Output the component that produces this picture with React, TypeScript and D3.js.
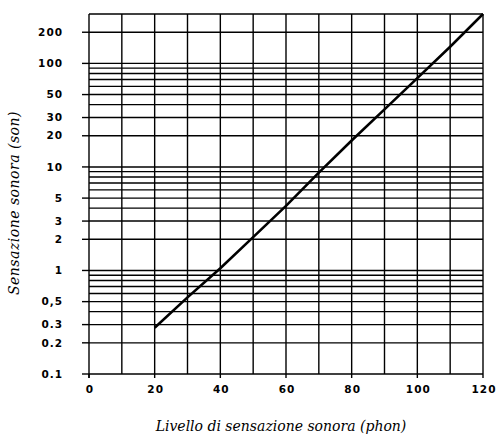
import * as d3 from 'd3';
import React from 'react';

// phon -> sone
const phon = [20, 30, 40, 50, 60, 70, 80, 90, 100, 110, 120];
const sone = [0.28, 0.55, 1.05, 2.1, 4.2, 8.8, 18, 36, 72, 145, 300];

const xTicks = [0, 20, 40, 60, 80, 100, 120];
const xGrid = [10, 20, 30, 40, 50, 60, 70, 80, 90, 100, 110, 120];

const yTicks = [200, 100, 50, 30, 20, 10, 5, 3, 2, 1, 0.5, 0.3, 0.2, 0.1];
const yTickLabels = ['200', '100', '50', '30', '20', '10', '5', '3', '2', '1', '0,5', '0.3', '0.2', '0.1'];
const yGrid = [200, 100, 90, 80, 70, 60, 50, 40, 30, 20, 10, 9, 8, 7, 6, 5, 4, 3, 2, 1, 0.9, 0.8, 0.7, 0.6, 0.5, 0.4, 0.3, 0.2];

const width = 498;
const height = 439;
const margin = { top: 14, right: 15, bottom: 65, left: 89 };

export default function App() {
  const x = d3.scaleLinear().domain([0, 120]).range([margin.left, width - margin.right]);
  const y = d3.scaleLog().domain([0.1, 300]).range([height - margin.bottom, margin.top]);

  const line = d3
    .line<number>()
    .x((d, i) => x(phon[i]))
    .y((d) => y(d));

  const x0 = x(0);
  const x1 = x(120);
  const y0 = y(0.1);
  const y1 = y(300);

  const tickFont = { fontFamily: 'DejaVu Sans', fontWeight: 'bold' as const, fontSize: 10.5, letterSpacing: 1 };
  const titleFont = { fontFamily: 'DejaVu Serif', fontStyle: 'italic' as const, fontSize: 14 };

  return (
    <svg
      width={width}
      height={height}
      style={{ position: 'absolute', left: 0, top: 0, background: '#fff' }}
    >
      <g stroke="#000" strokeWidth={1.4}>
        {yGrid.map((v) => (
          <line key={'h' + v} x1={x0} x2={x1} y1={y(v)} y2={y(v)} />
        ))}
        {xGrid.map((v) => (
          <line key={'v' + v} x1={x(v)} x2={x(v)} y1={y1} y2={y0} />
        ))}
        {/* frame */}
        <line x1={x0} x2={x1} y1={y1} y2={y1} />
        <line x1={x0} x2={x1} y1={y0} y2={y0} />
        <line x1={x0} x2={x0} y1={y1} y2={y0 + 4} />
        {/* y ticks */}
        {yTicks.map((v) => (
          <line key={'yt' + v} x1={x0 - 7} x2={x0} y1={y(v)} y2={y(v)} />
        ))}
        {/* x ticks */}
        {xTicks.map((v) => (
          <line key={'xt' + v} x1={x(v)} x2={x(v)} y1={y0} y2={y0 + 4} />
        ))}
      </g>

      <path d={line(sone) || ''} fill="none" stroke="#000" strokeWidth={2.6} />

      {yTicks.map((v, i) => (
        <text key={'yl' + v} x={x0 - 26} y={y(v)} dy="0.35em" textAnchor="end" {...tickFont}>
          {yTickLabels[i]}
        </text>
      ))}
      {xTicks.map((v) => (
        <text key={'xl' + v} x={x(v) + 1} y={y0 + 19} textAnchor="middle" {...tickFont}>
          {v}
        </text>
      ))}

      <text x={(x0 + x1) / 2 - 5} y={431} textAnchor="middle" {...titleFont}>
        Livello di sensazione sonora (phon)
      </text>
      <text
        transform={`translate(19,${203}) rotate(-90)`}
        textAnchor="middle"
        {...titleFont}
        letterSpacing={0.5}
      >
        Sensazione sonora (son)
      </text>
    </svg>
  );
}
